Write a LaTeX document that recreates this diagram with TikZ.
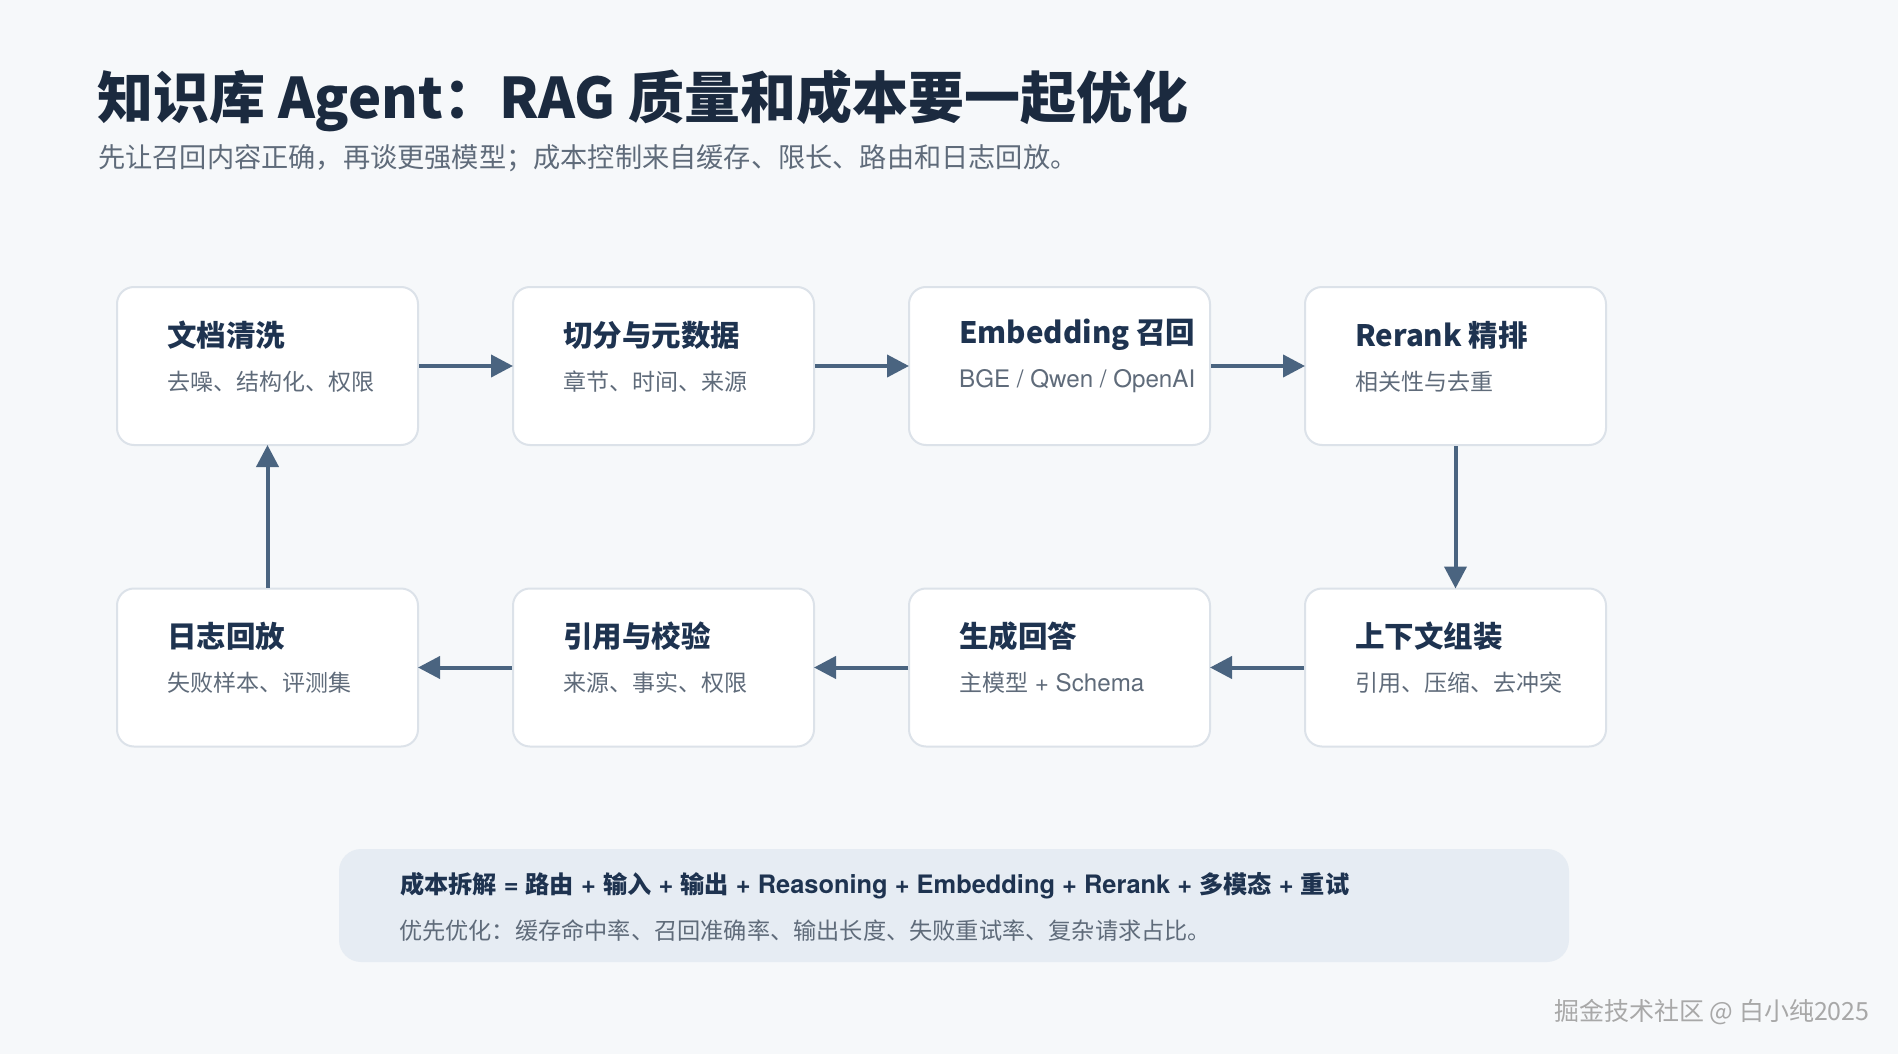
\documentclass[tikz,border=0pt]{standalone}
\usepackage{fontspec}
\setmainfont{Noto Sans CJK SC}
\newfontfamily\lat{TeX Gyre Heros}[Scale=1.05, BoldFont={TeX Gyre Heros Bold}]
\usetikzlibrary{arrows.meta,calc}
\definecolor{bgc}{HTML}{F6F8FA}
\definecolor{cardline}{HTML}{DCE2E9}
\definecolor{navy}{HTML}{1B2A3F}
\definecolor{boxtitle}{HTML}{1E3350}
\definecolor{subgray}{HTML}{5F6B7A}
\definecolor{arrowc}{HTML}{4A6480}
\definecolor{notefill}{HTML}{E6ECF3}
\definecolor{wm}{HTML}{A8A8A8}
\tikzset{
  card/.style={draw=cardline, line width=2pt, fill=white, rounded corners=17pt,
    minimum width=301pt, minimum height=158pt, inner sep=0pt},
  ttl/.style={anchor=west, inner sep=0pt, text=boxtitle, font=\fontsize{29.5}{34}\selectfont\bfseries},
  sub/.style={anchor=west, inner sep=0pt, text=subgray, font=\fontsize{23}{27}\selectfont},
  arr/.style={draw=arrowc, line width=4pt, -{Triangle[length=22pt,width=22pt]}, shorten >=-1pt},
}
\begin{document}
\begin{tikzpicture}[x=1pt,y=-1pt]
\fill[bgc] (0,0) rectangle (1898,1054);
\useasboundingbox (0,0) rectangle (1898,1054);

\node[anchor=west, inner sep=0pt, text=navy, font=\fontsize{56}{62}\selectfont\bfseries] (title) at (97,101) {知识库 Agent：RAG 质量和成本要一起优化};
\node[anchor=west, inner sep=0pt, text=subgray, font=\fontsize{27.2}{32}\selectfont] (subtitle) at (98,158) {先让召回内容正确，再谈更强模型；成本控制来自缓存、限长、路由和日志回放。};

% row 1
\node[card] (b1) at (267.5,366) {};
\node[card] (b2) at (663.5,366) {};
\node[card] (b3) at (1059.5,366) {};
\node[card] (b4) at (1455.5,366) {};
% row 2
\node[card] (b5) at (267.5,667.5) {};
\node[card] (b6) at (663.5,667.5) {};
\node[card] (b7) at (1059.5,667.5) {};
\node[card] (b8) at (1455.5,667.5) {};

\node[ttl] (t1) at ($(b1.north west)+(51,49)$) {文档清洗};
\node[sub] (s1) at ($(b1.north west)+(51,95.5)$) {去噪、结构化、权限};
\node[ttl] (t2) at ($(b2.north west)+(51,49)$) {切分与元数据};
\node[sub] (s2) at ($(b2.north west)+(51,95.5)$) {章节、时间、来源};
\node[ttl] (t3) at ($(b3.north west)+(51,49)$) {Embedding 召回};
\node[sub] (s3) at ($(b3.north west)+(51,95.5)$) {\lat BGE / Qwen / OpenAI};
\node[ttl] (t4) at ($(b4.north west)+(51,49)$) {Rerank 精排};
\node[sub] (s4) at ($(b4.north west)+(51,95.5)$) {相关性与去重};
\node[ttl] (t5) at ($(b5.north west)+(51,49)$) {日志回放};
\node[sub] (s5) at ($(b5.north west)+(51,95.5)$) {失败样本、评测集};
\node[ttl] (t6) at ($(b6.north west)+(51,49)$) {引用与校验};
\node[sub] (s6) at ($(b6.north west)+(51,95.5)$) {来源、事实、权限};
\node[ttl] (t7) at ($(b7.north west)+(51,49)$) {生成回答};
\node[sub] (s7) at ($(b7.north west)+(51,95.5)$) {主模型{\lat{} + Schema}};
\node[ttl] (t8) at ($(b8.north west)+(51,49)$) {上下文组装};
\node[sub] (s8) at ($(b8.north west)+(51,95.5)$) {引用、压缩、去冲突};

\draw[arr] (b1.east) -- (b2.west);
\draw[arr] (b2.east) -- (b3.west);
\draw[arr] (b3.east) -- (b4.west);
\draw[arr] (b4.south) -- (b8.north);
\draw[arr] (b8.west) -- (b7.east);
\draw[arr] (b7.west) -- (b6.east);
\draw[arr] (b6.west) -- (b5.east);
\draw[arr] (b5.north) -- (b1.south);

\node[fill=notefill, rounded corners=22pt, minimum width=1230pt, minimum height=113pt, inner sep=0pt] (note) at (954,905.5) {};
\node[anchor=west, inner sep=0pt, text=boxtitle, font=\fontsize{24.2}{28}\selectfont\bfseries] (n1) at ($(note.north west)+(61,37)$) {成本拆解{\lat{} = }路由{\lat{} + }输入{\lat{} + }输出{\lat{} + Reasoning + Embedding + Rerank + }多模态{\lat{} + }重试};
\node[anchor=west, inner sep=0pt, text=subgray, font=\fontsize{23.2}{27}\selectfont] (n2) at ($(note.north west)+(60,82)$) {优先优化：缓存命中率、召回准确率、输出长度、失败重试率、复杂请求占比。};

\node[anchor=west, inner sep=0pt, text=wm, font=\fontsize{25}{30}\selectfont] (wmk) at (1554,1012) {掘金技术社区 @ 白小纯2025};
\end{tikzpicture}
\end{document}
